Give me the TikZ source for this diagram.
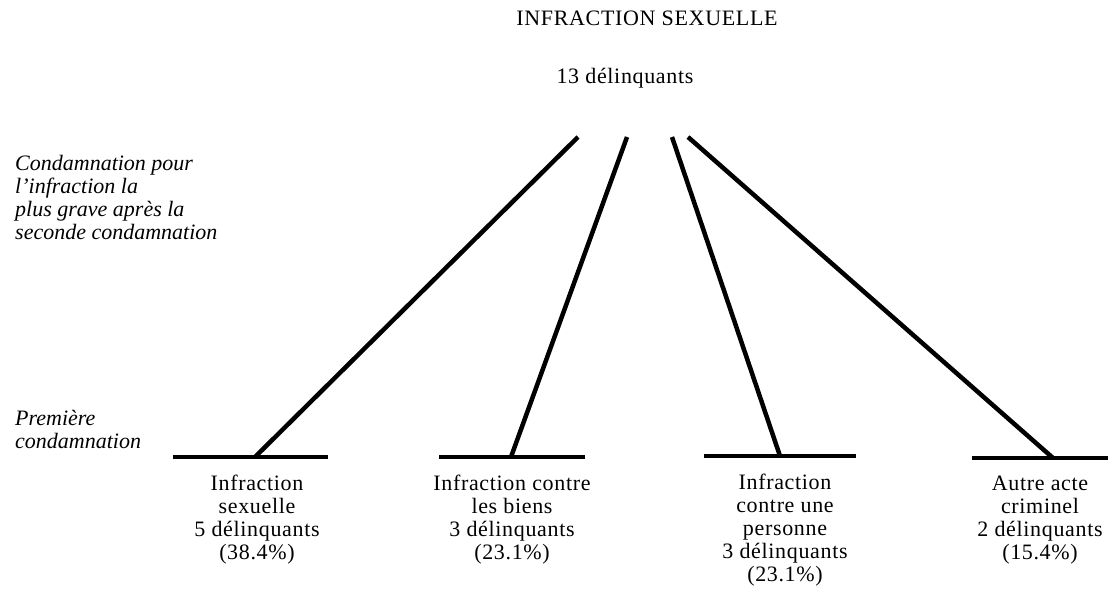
\documentclass[tikz,border=0pt]{standalone}
\usepackage{fontspec}
\setmainfont{Liberation Serif}
\newfontfamily\spacedserif[LetterSpace=3]{Liberation Serif}
\begin{document}
\begin{tikzpicture}[x=1pt,y=-1pt,
  branch/.style={line width=4.5pt},
  bar/.style={line width=4.5pt},
  lbl/.style={inner sep=0pt,align=center,font=\spacedserif\fontsize{22}{23}\selectfont,anchor=base},
  side/.style={inner sep=0pt,align=left,font=\fontsize{22}{23}\selectfont\itshape,anchor=base west}]
\useasboundingbox (0,0) rectangle (1109,589);
% titles
\node[lbl] (title) at (647,25) {INFRACTION SEXUELLE};
\node[lbl] (total) at (625,83) {13 délinquants};
% side labels (base = baseline of last line)
\node[side] (cond) at (15,239) {Condamnation pour\\l’infraction la\\plus grave après la\\seconde condamnation};
\node[side] (prem) at (15,448) {Première\\condamnation};
% top ends
\coordinate (t1) at (578,137);
\coordinate (t2) at (627,137);
\coordinate (t3) at (672,137);
\coordinate (t4) at (688,137);
% bars
\coordinate (b1l) at (173,457); \coordinate (b1r) at (328,457); \coordinate (j1) at (255,457);
\coordinate (b2l) at (439,457); \coordinate (b2r) at (585,457); \coordinate (j2) at (511,457);
\coordinate (b3l) at (704,456); \coordinate (b3r) at (856,456); \coordinate (j3) at (780,456);
\coordinate (b4l) at (972,458); \coordinate (b4r) at (1108,458); \coordinate (j4) at (1053,458);
\draw[bar] (b1l) -- (b1r);
\draw[bar] (b2l) -- (b2r);
\draw[bar] (b3l) -- (b3r);
\draw[bar] (b4l) -- (b4r);
\draw[branch] (t1) -- (j1);
\draw[branch] (t2) -- (j2);
\draw[branch] (t3) -- (j3);
\draw[branch] (t4) -- (j4);
% bottom labels (base = baseline of last line)
\node[lbl] (l1) at (257,559) {Infraction\\sexuelle\\5 délinquants\\(38.4\%)};
\node[lbl] (l2) at (512,559) {Infraction contre\\les biens\\3 délinquants\\(23.1\%)};
\node[lbl] (l3) at (785,581) {Infraction\\contre une\\personne\\3 délinquants\\(23.1\%)};
\node[lbl] (l4) at (1040,559) {Autre acte\\criminel\\2 délinquants\\(15.4\%)};
\end{tikzpicture}
\end{document}
